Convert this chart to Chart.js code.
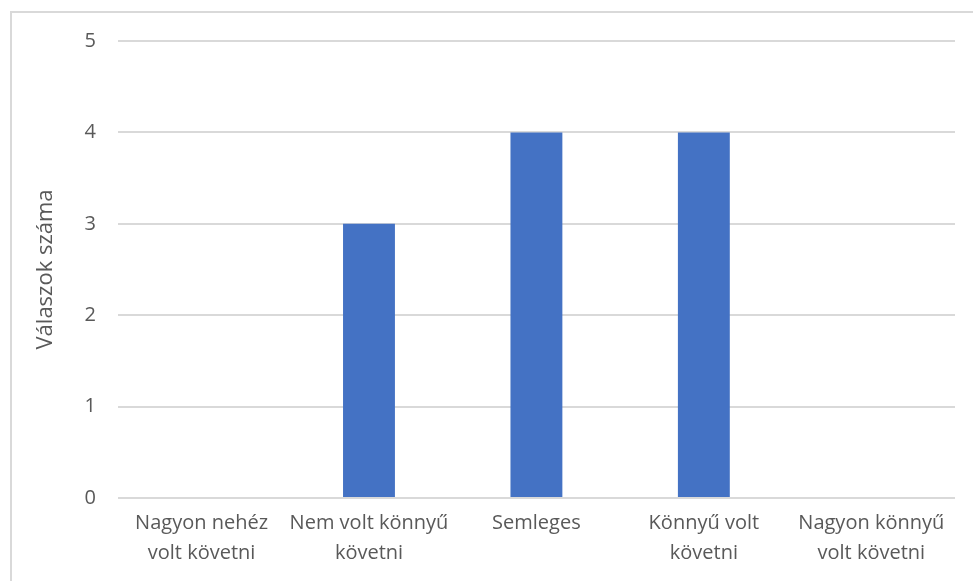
<!DOCTYPE html>
<html>
<head>
<meta charset="utf-8">
<script src="https://cdn.jsdelivr.net/npm/chart.js@4/dist/chart.umd.min.js"></script>
<style>
  html, body { margin: 0; padding: 0; background: #fff; }
  #wrap { position: absolute; left: 0; top: 0; width: 973px; height: 581px; }
  #frame { position: absolute; left: 10px; top: 11px; width: 970px; height: 580px;
           border-left: 2px solid #d9d9d9; border-top: 2px solid #d9d9d9; }
</style>
</head>
<body>
<div id="wrap">
  <div id="frame"></div>
  <canvas id="bar-answers" width="973" height="581"></canvas>
</div>
<script>
const categories = [
  ['Nagyon nehéz', 'volt követni'],
  ['Nem volt könnyű', 'követni'],
  ['Semleges'],
  ['Könnyű volt', 'követni'],
  ['Nagyon könnyű', 'volt követni']
];
const answers = [0, 3, 4, 4, 0];
const yTicks = [0, 1, 2, 3, 4, 5];

const textColor = '#595959';
const fontFamily = "'Open Sans', 'Liberation Sans', sans-serif";

const configAnswers = {
  type: 'bar',
  data: {
    labels: categories,
    datasets: [{
      label: 'Válaszok száma',
      data: answers,
      backgroundColor: '#4472C4',
      categoryPercentage: 1,
      barPercentage: 0.31
    }]
  },
  options: {
    responsive: false,
    animation: false,
    layout: { padding: { left: 33, right: 18, top: 41, bottom: 3 } },
    plugins: {
      legend: { display: false },
      tooltip: { enabled: false }
    },
    scales: {
      x: {
        grid: { display: false, drawTicks: false },
        border: { display: false },
        ticks: {
          color: textColor,
          font: { family: fontFamily, size: 20, lineHeight: 1.5 },
          padding: 10,
          maxRotation: 0,
          autoSkip: false
        }
      },
      y: {
        min: 0,
        max: 5,
        afterBuildTicks: (axis) => { axis.ticks = yTicks.map(v => ({ value: v })); },
        grid: { color: '#d9d9d9', lineWidth: 2, drawTicks: false },
        border: { display: false },
        ticks: {
          color: textColor,
          font: { family: fontFamily, size: 20 },
          padding: 22
        },
        title: {
          display: true,
          text: 'Válaszok száma',
          color: textColor,
          font: { family: fontFamily, size: 22 },
          padding: { top: 0, bottom: 3 }
        }
      }
    }
  }
};

let barAnswers = new Chart(document.getElementById('bar-answers'), configAnswers);
</script>
</body>
</html>
